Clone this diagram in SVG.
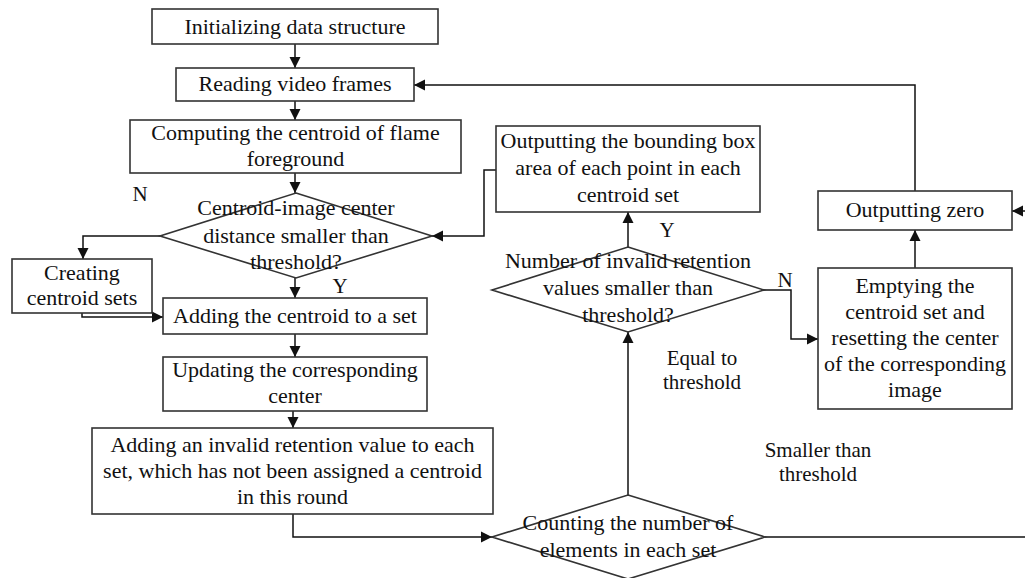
<svg xmlns="http://www.w3.org/2000/svg" width="1025" height="578" viewBox="0 0 1025 578">
<style>
.box{fill:#fff;stroke:#333;stroke-width:1.6}
.conn{fill:none;stroke:#111;stroke-width:1.5}
text{font-family:"Liberation Serif","Times New Roman",serif;font-size:22px;fill:#111;text-anchor:middle}
.lbl{font-size:21px}
</style>
<defs>
<marker id="ah" viewBox="0 0 10 10" refX="10" refY="5" markerWidth="11" markerHeight="12" markerUnits="userSpaceOnUse" orient="auto">
<path d="M0,0 L10,5 L0,10 z" fill="#111"/>
</marker>
</defs>
<rect width="1025" height="578" fill="#fff"/>
<g id="connectors">
<path class="conn" d="M295,44 V68" marker-end="url(#ah)"/>
<path class="conn" d="M295,101 V120" marker-end="url(#ah)"/>
<path class="conn" d="M295,173 V193" marker-end="url(#ah)"/>
<path class="conn" d="M295,278 V298" marker-end="url(#ah)"/>
<path class="conn" d="M295,334 V357" marker-end="url(#ah)"/>
<path class="conn" d="M293,411 V428" marker-end="url(#ah)"/>
<path class="conn" d="M160,236 H83 V259" marker-end="url(#ah)"/>
<path class="conn" d="M82,313 V317 H163" marker-end="url(#ah)"/>
<path class="conn" d="M293,514 V537 H492" marker-end="url(#ah)"/>
<path class="conn" d="M628,495 V332" marker-end="url(#ah)"/>
<path class="conn" d="M628,247 V212" marker-end="url(#ah)"/>
<path class="conn" d="M496,170 H484 V236 H432" marker-end="url(#ah)"/>
<path class="conn" d="M764,290 H791 V339 H818" marker-end="url(#ah)"/>
<path class="conn" d="M915,268 V230" marker-end="url(#ah)"/>
<path class="conn" d="M915,191 V85 H414" marker-end="url(#ah)"/>
<path class="conn" d="M765,537 H1025"/>
<path class="conn" d="M1030,211 H1012" marker-end="url(#ah)"/>
<text class="lbl" x="140" y="201">N</text>
<text class="lbl" x="340" y="293">Y</text>
<text class="lbl" x="667" y="237">Y</text>
<text class="lbl" x="785" y="287">N</text>
<text class="lbl" x="702" y="365">Equal to</text>
<text class="lbl" x="702" y="389">threshold</text>
<text class="lbl" x="818" y="457">Smaller than</text>
<text class="lbl" x="818" y="481">threshold</text>
</g>
<g id="n-init">
<rect class="box" x="152" y="9" width="286" height="35"/>
<text x="295" y="34">Initializing data structure</text>
</g>
<g id="n-read">
<rect class="box" x="176" y="68" width="238" height="33"/>
<text x="295" y="91">Reading video frames</text>
</g>
<g id="n-compute">
<rect class="box" x="130" y="120" width="331" height="53"/>
<text x="295.5" y="140">Computing the centroid of flame</text>
<text x="295.5" y="166">foreground</text>
</g>
<g id="n-dist">
<polygon class="box" points="296,193 432,236 296,278 160,236"/>
<text x="296" y="215">Centroid-image center</text>
<text x="296" y="243">distance smaller than</text>
<text x="296" y="269">threshold?</text>
</g>
<g id="n-create">
<rect class="box" x="12" y="259" width="140" height="54"/>
<text x="82" y="280">Creating</text>
<text x="82" y="305">centroid sets</text>
</g>
<g id="n-add">
<rect class="box" x="163" y="298" width="264" height="36"/>
<text x="295" y="323">Adding the centroid to a set</text>
</g>
<g id="n-update">
<rect class="box" x="163" y="357" width="264" height="54"/>
<text x="295" y="377">Updating the corresponding</text>
<text x="295" y="403">center</text>
</g>
<g id="n-invalid">
<rect class="box" x="92" y="428" width="401" height="86"/>
<text x="292.5" y="452">Adding an invalid retention value to each</text>
<text x="292.5" y="478">set, which has not been assigned a centroid</text>
<text x="292.5" y="504">in this round</text>
</g>
<g id="n-count">
<polygon class="box" points="628,495 765,537 628,579 492,537"/>
<text x="628" y="530">Counting the number of</text>
<text x="628" y="557">elements in each set</text>
</g>
<g id="n-number">
<polygon class="box" points="628,247 764,290 628,332 492,290"/>
<text x="628" y="268">Number of invalid retention</text>
<text x="628" y="295">values smaller than</text>
<text x="628" y="322">threshold?</text>
</g>
<g id="n-bbox">
<rect class="box" x="496" y="126" width="264" height="86"/>
<text x="628" y="148">Outputting the bounding box</text>
<text x="628" y="175">area of each point in each</text>
<text x="628" y="202">centroid set</text>
</g>
<g id="n-zero">
<rect class="box" x="818" y="191" width="194" height="39"/>
<text x="915" y="217">Outputting zero</text>
</g>
<g id="n-empty">
<rect class="box" x="818" y="268" width="194" height="141"/>
<text x="915" y="293">Emptying the</text>
<text x="915" y="319">centroid set and</text>
<text x="915" y="345">resetting the center</text>
<text x="915" y="371">of the corresponding</text>
<text x="915" y="397">image</text>
</g>
</svg>
